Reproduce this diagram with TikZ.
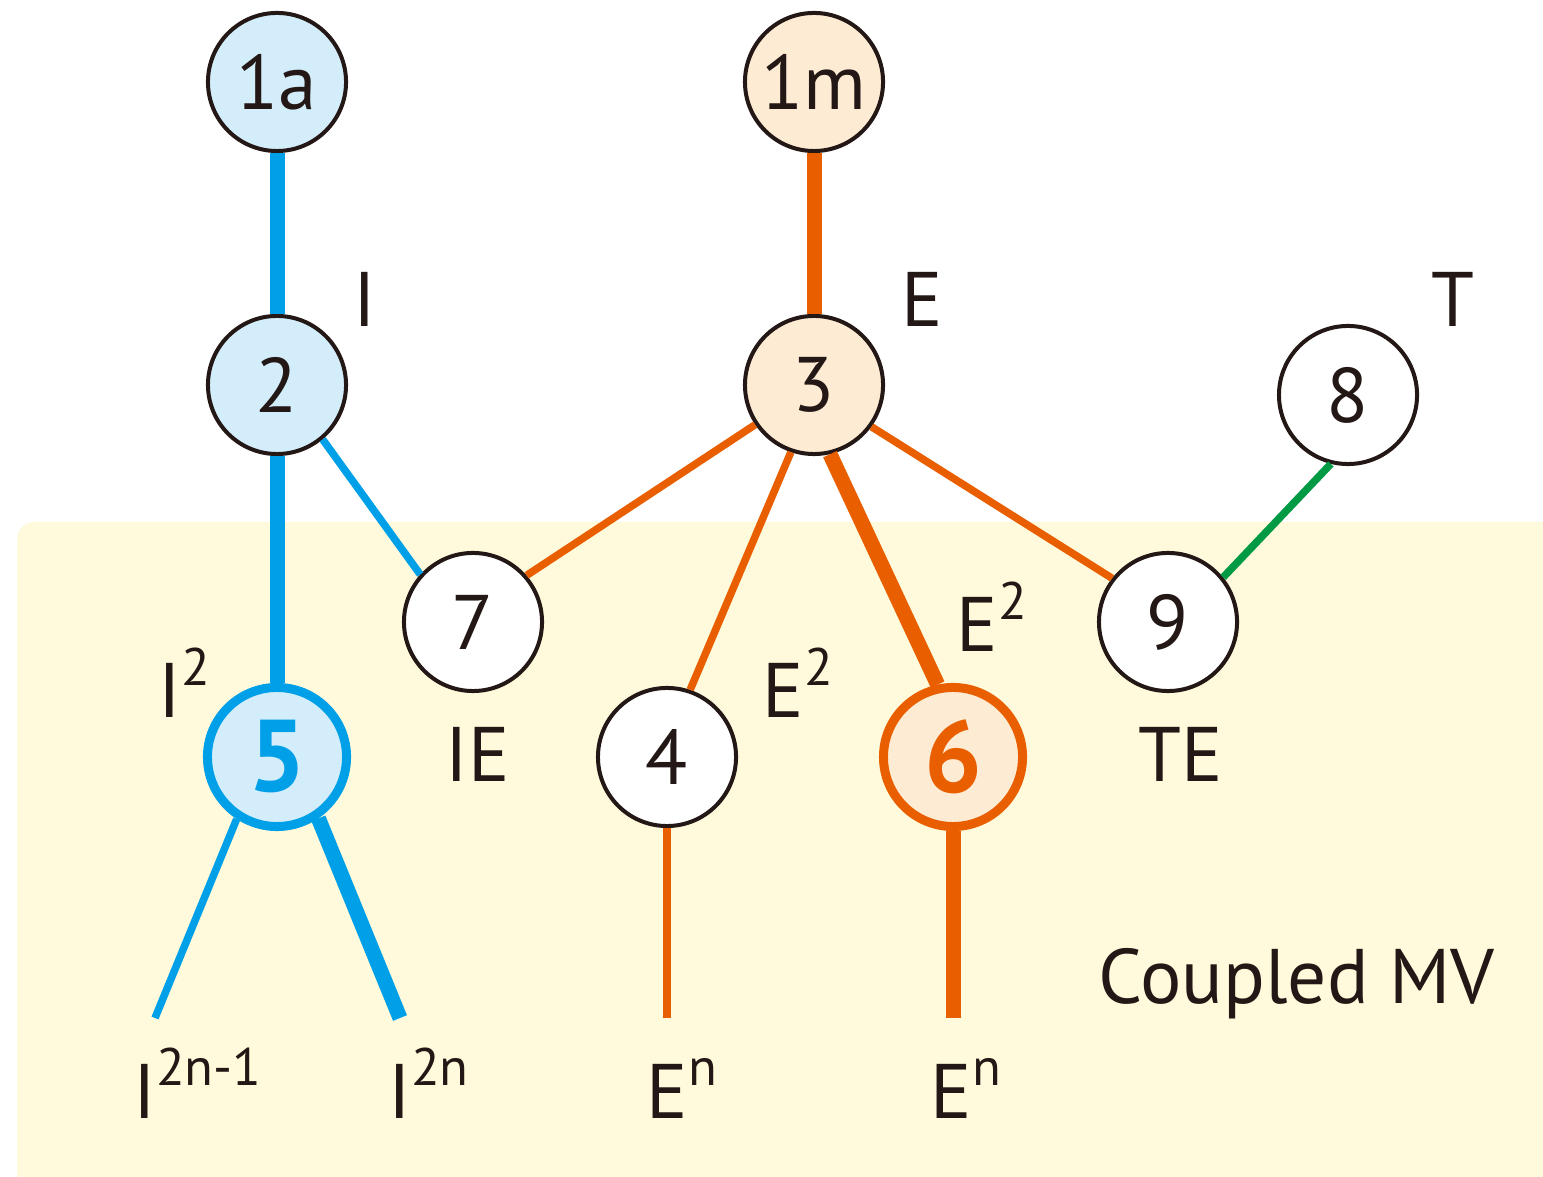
\documentclass[tikz,border=0pt]{standalone}
\usepackage{fontspec}
\setmainfont{PT Sans}
\usepackage{xcolor}
\usepackage{tikz}

\definecolor{ink}{HTML}{231815}
\definecolor{mvblue}{HTML}{00A0E9}
\definecolor{paleblue}{HTML}{D3EDFB}
\definecolor{mvorange}{HTML}{E95F00}
\definecolor{paleorange}{HTML}{FDEBD3}
\definecolor{mvgreen}{HTML}{009944}
\definecolor{mvyellow}{HTML}{FFFADB}

\newcommand{\pow}[1]{\raisebox{0.42em}{\fontsize{15}{15}\selectfont #1}}

\begin{document}
\begin{tikzpicture}[x=0.01cm,y=-0.01cm]
			\tikzstyle{var} = [circle, draw=ink, line width=0.04cm, fill=white, minimum size=1.38cm, inner sep=0pt, text=ink, font=\fontsize{22}{22}\selectfont]
			\tikzstyle{coupled} = [line width=0.09cm, minimum size=1.39cm, font=\fontsize{29}{29}\selectfont\bfseries]
			\tikzstyle{lab} = [anchor=base west, inner sep=0pt, text=ink, font=\fontsize{22}{22}\selectfont]
			\tikzset{thickblue/.style = {mvblue, line width=0.15cm}}
			\tikzset{thinblue/.style = {mvblue, line width=0.075cm}}
			\tikzset{thickorange/.style = {mvorange, line width=0.15cm}}
			\tikzset{thinorange/.style = {mvorange, line width=0.075cm}}
			\tikzset{thingreen/.style = {mvgreen, line width=0.075cm}}
			
			\useasboundingbox (0,0) rectangle (1543,1177);
			\fill[mvyellow, rounded corners=0.17cm] (17,522) rectangle (1600,1240);
			
			\node[var, fill=paleblue](v1a) at (277,82) {1a};
			\node[var, fill=paleorange](v1m) at (814,82) {1m};
			\node[var, fill=paleblue](v2) at (277,385) {2};
			\node[var, fill=paleorange](v3) at (814,385) {3};
			\node[var](v8) at (1348,395) {8};
			\node[var](v7) at (473,622) {7};
			\node[var](v9) at (1168,622) {9};
			\node[var](v4) at (667,757) {4};
			\node[var, coupled, draw=mvblue, fill=paleblue, text=mvblue](v5) at (277,757) {5};
			\node[var, coupled, draw=mvorange, fill=paleorange, text=mvorange](v6) at (953,757) {6};
			
			\coordinate (end1) at (155,1018);
			\coordinate (end2) at (400,1018);
			\coordinate (end3) at (667,1018);
			\coordinate (end4) at (953,1018);
			
			\draw[thickblue](v1a) to (v2);
			\draw[thickblue](v2) to (v5);
			\draw[thinblue](v2.-50) to (v7.138);
			\draw[thickorange](v1m) to (v3);
			\draw[thinorange](v3.-146) to (v7.41);
			\draw[thinorange](v3.-109) to (v4.71);
			\draw[thickorange](v3.-77) to (v6.102);
			\draw[thinorange](v3.-36) to (v9.142);
			\draw[thingreen](v8.-104) to (v9.39);
			\draw[thinblue](v5.-123) to (end1);
			\draw[thickblue](v5.-56) to (end2);
			\draw[thinorange](v4) to (end3);
			\draw[thickorange](v6) to (end4);
			
			\node[lab](labI) at (353,327) {I};
			\node[lab](labE) at (901,327) {E};
			\node[lab](labT) at (1431,327) {T};
			\node[lab](labII) at (158,718) {I\pow{2}};
			\node[lab](labIE) at (445,782) {IE};
			\node[lab](labEE) at (762,718) {E\pow{2}};
			\node[lab](labEEb) at (956,652) {E\pow{2}};
			\node[lab](labTE) at (1138,782) {TE};
			\node[lab](labIodd) at (133,1118) {I\pow{2n-1}};
			\node[lab](labIeven) at (388,1118) {I\pow{2n}};
			\node[lab](labEn) at (646,1118) {E\pow{n}};
			\node[lab](labEnb) at (930,1118) {E\pow{n}};
			\node[lab](mv) at (1098,1003) {Coupled MV};
			
			\end{tikzpicture}
\end{document}
